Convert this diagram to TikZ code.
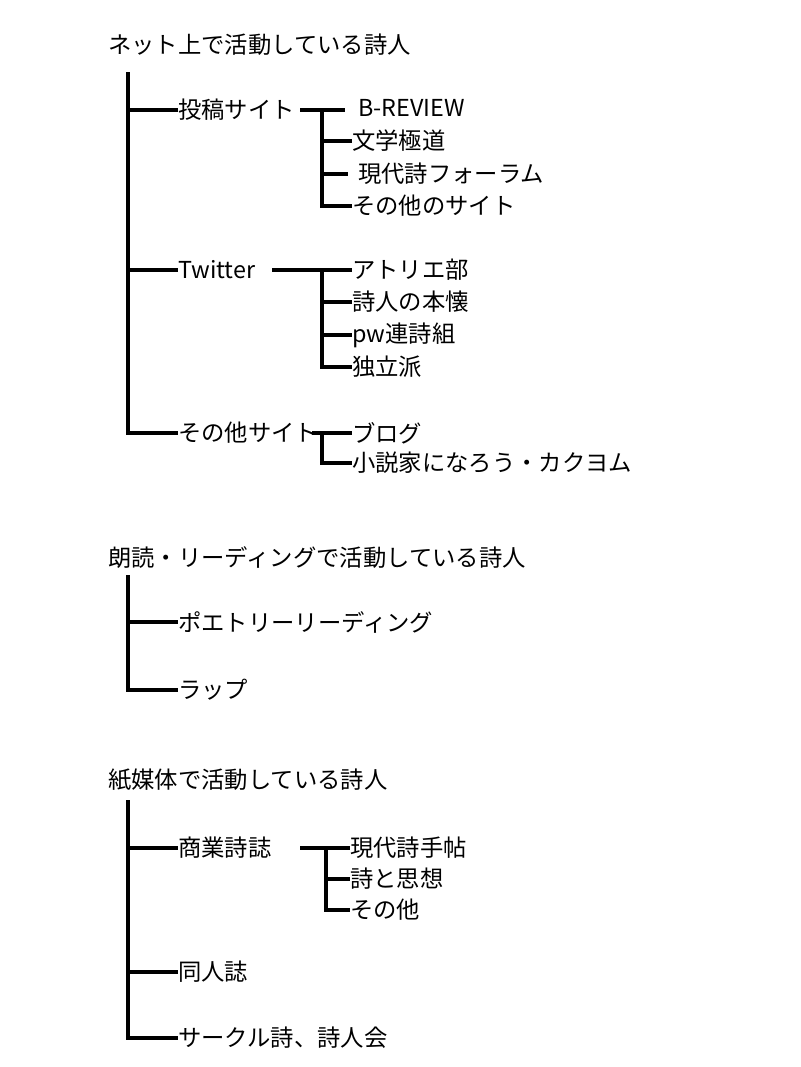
\documentclass[tikz,border=0pt]{standalone}
\usepackage{fontspec}
\setmainfont{Noto Sans CJK JP}
\begin{document}
\begin{tikzpicture}[x=0.75pt,y=-0.75pt]
\tikzset{
  lbl/.style={anchor=west, inner sep=0pt, font=\fontsize{17.5}{20}\selectfont},
  branch/.style={draw, line width=2.4pt}
}
\useasboundingbox (0,0) rectangle (800,1067);

% Net
\node[lbl] (net) at (108,45) {ネット上で活動している詩人};
\node[lbl] (toko) at (178,110) {投稿サイト};
\node[lbl] (tw) at (178,270) {Twitter};
\node[lbl] (etc) at (178,433) {その他サイト};
\draw[branch] (128,72) -- (128,433) -- (etc.west);
\draw[branch] (128,110) -- (toko.west);
\draw[branch] (128,270) -- (tw.west);

\node[lbl] (brev) at (358,108) {B-REVIEW};
\node[lbl] (bungaku) at (352,141) {文学極道};
\node[lbl] (gendai) at (358,174) {現代詩フォーラム};
\node[lbl] (sonota) at (352,206) {その他のサイト};
\draw[branch] (300,110) -- (345,110);
\draw[branch] (322,110) -- (322,206) -- (sonota.west);
\draw[branch] (322,141) -- (bungaku.west);
\draw[branch] (322,174) -- (348,174);

\node[lbl] (atorie) at (352,270) {アトリエ部};
\node[lbl] (honkai) at (352,302) {詩人の本懐};
\node[lbl] (pw) at (352,335) {pw連詩組};
\node[lbl] (dokuritsu) at (352,367) {独立派};
\draw[branch] (272,270) -- (atorie.west);
\draw[branch] (322,270) -- (322,367) -- (dokuritsu.west);
\draw[branch] (322,302) -- (honkai.west);
\draw[branch] (322,335) -- (pw.west);

\node[lbl] (blog) at (352,433) {ブログ};
\node[lbl] (naro) at (352,463) {小説家になろう・カクヨム};
\draw[branch] (312,433) -- (blog.west);
\draw[branch] (322,433) -- (322,463) -- (naro.west);

% Reading
\node[lbl] (rodoku) at (108,558) {朗読・リーディングで活動している詩人};
\node[lbl] (poetry) at (178,622) {ポエトリーリーディング};
\node[lbl] (rap) at (178,690) {ラップ};
\draw[branch] (128,575) -- (128,690) -- (rap.west);
\draw[branch] (128,622) -- (poetry.west);

% Paper
\node[lbl] (kami) at (108,780) {紙媒体で活動している詩人};
\node[lbl] (shogyo) at (178,848) {商業詩誌};
\node[lbl] (dojin) at (178,972) {同人誌};
\node[lbl] (circle) at (178,1038) {サークル詩、詩人会};
\draw[branch] (128,800) -- (128,1038) -- (circle.west);
\draw[branch] (128,848) -- (shogyo.west);
\draw[branch] (128,972) -- (dojin.west);

\node[lbl] (techo) at (350,848) {現代詩手帖};
\node[lbl] (shiso) at (350,879) {詩と思想};
\node[lbl] (hoka) at (350,910) {その他};
\draw[branch] (300,848) -- (techo.west);
\draw[branch] (326,848) -- (326,910) -- (hoka.west);
\draw[branch] (326,879) -- (shiso.west);
\end{tikzpicture}
\end{document}
